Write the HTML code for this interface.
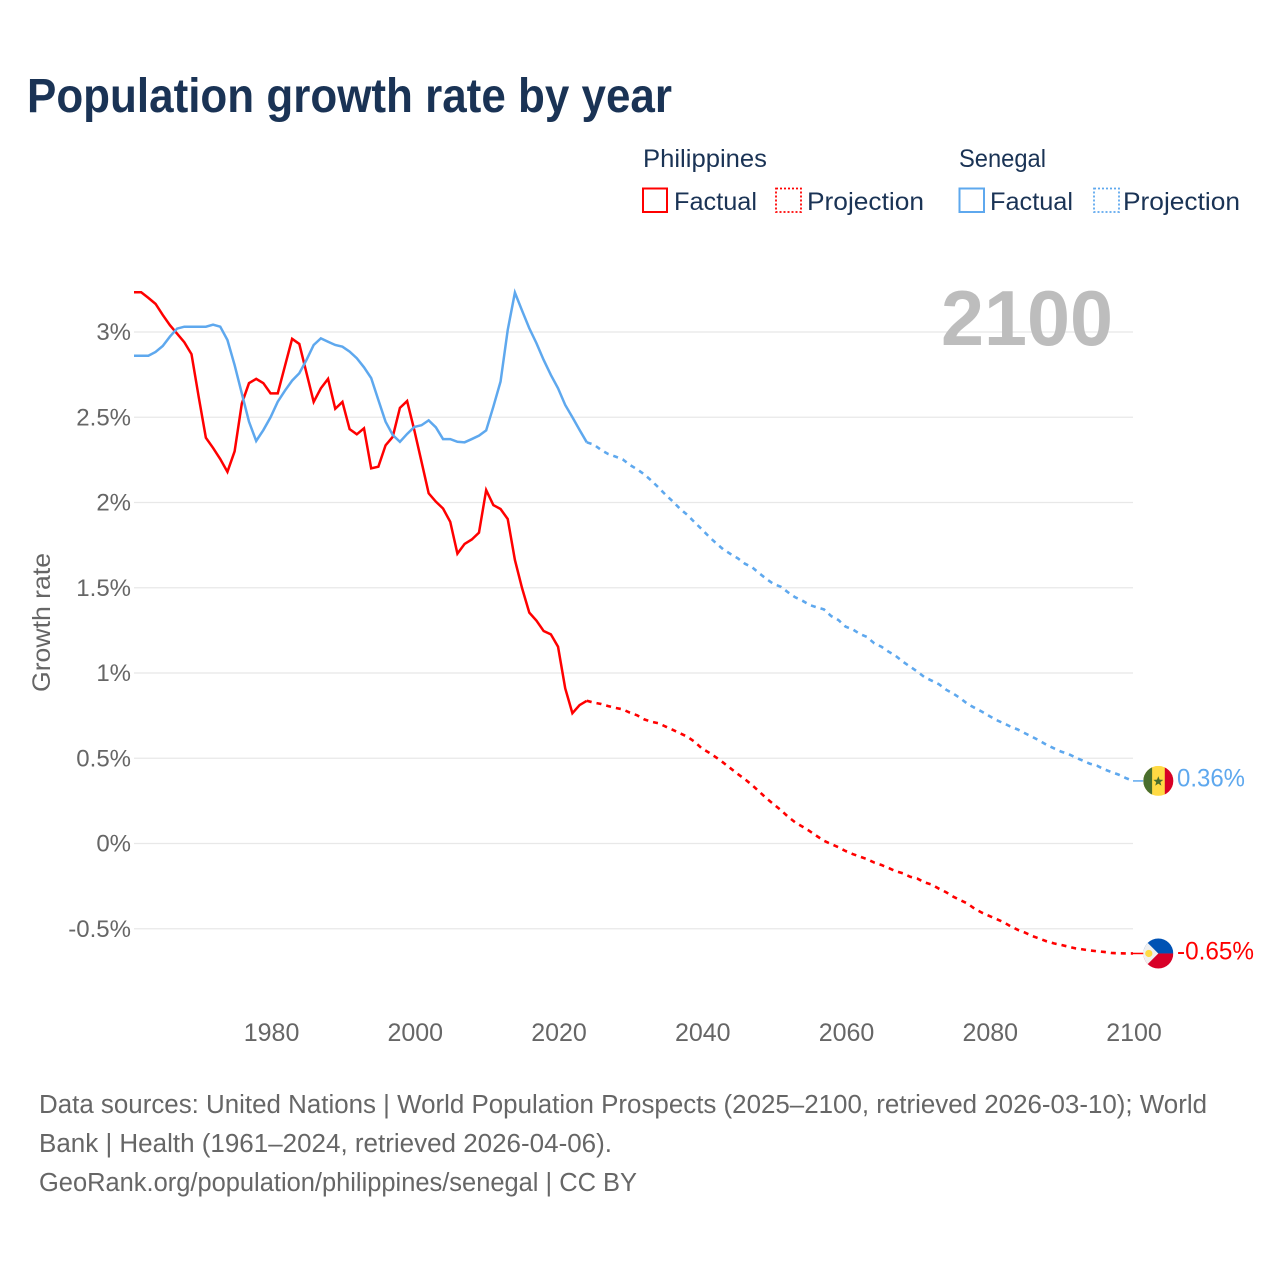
<!DOCTYPE html>
<html lang="en">
<head>
<meta charset="utf-8">
<title>Population growth rate by year</title>
<style>
html,body{margin:0;padding:0;background:#fff;}
svg{display:block;font-family:"Liberation Sans",sans-serif;}
</style>
</head>
<body>
<svg id="chart" xmlns="http://www.w3.org/2000/svg" width="1280" height="1280" viewBox="0 0 1280 1280">
  <rect x="0" y="0" width="1280" height="1280" fill="#ffffff"/>
  <text x="27" y="112" font-size="48.5" font-weight="700" fill="#1a3355" textLength="645" lengthAdjust="spacingAndGlyphs">Population growth rate by year</text>

  <g font-size="25" fill="#1a3355">
    <text x="643" y="167" textLength="124" lengthAdjust="spacingAndGlyphs">Philippines</text>
    <text x="959" y="167" textLength="87" lengthAdjust="spacingAndGlyphs">Senegal</text>
    <rect x="643" y="188.5" width="24" height="23.5" fill="none" stroke="#ff0000" stroke-width="2"/>
    <text x="674" y="210" textLength="83" lengthAdjust="spacingAndGlyphs">Factual</text>
    <rect x="776" y="188.5" width="25" height="23.5" fill="none" stroke="#ff0000" stroke-width="1.8" stroke-dasharray="2 2"/>
    <text x="807" y="210" textLength="117" lengthAdjust="spacingAndGlyphs">Projection</text>
    <rect x="959.5" y="188.5" width="24.5" height="23.5" fill="none" stroke="#5ea8ee" stroke-width="2"/>
    <text x="990" y="210" textLength="83" lengthAdjust="spacingAndGlyphs">Factual</text>
    <rect x="1094" y="188.5" width="25" height="23.5" fill="none" stroke="#5ea8ee" stroke-width="1.8" stroke-dasharray="2 2"/>
    <text x="1123" y="210" textLength="117" lengthAdjust="spacingAndGlyphs">Projection</text>
  </g>

  <g id="grid"></g>
  <g id="ytick-labels"></g>
  <g id="xtick-labels"></g>

  <text x="941" y="345" font-size="78" font-weight="700" fill="#bdbdbd" textLength="172" lengthAdjust="spacingAndGlyphs">2100</text>
  <text transform="translate(50,622.5) rotate(-90)" text-anchor="middle" font-size="25" fill="#666666" textLength="139" lengthAdjust="spacingAndGlyphs">Growth rate</text>

  <g id="series"></g>
  <g id="end-markers"></g>

  <g font-size="25.5" fill="#666666">
    <text x="39" y="1113" textLength="1168" lengthAdjust="spacingAndGlyphs">Data sources: United Nations | World Population Prospects (2025–2100, retrieved 2026-03-10); World</text>
    <text x="39" y="1152" textLength="573" lengthAdjust="spacingAndGlyphs">Bank | Health (1961–2024, retrieved 2026-04-06).</text>
    <text x="39" y="1191" textLength="598" lengthAdjust="spacingAndGlyphs">GeoRank.org/population/philippines/senegal | CC BY</text>
  </g>
</svg>
<script>
const factualStartYear = 1961;
const projectionStartYear = 2024;
const yTickValues = [-0.5, 0, 0.5, 1, 1.5, 2, 2.5, 3];
const xTickYears = [1980, 2000, 2020, 2040, 2060, 2080, 2100];
const philippinesEndLabel = "-0.65%";
const senegalEndLabel = "0.36%";

const philippinesFactual = [
  3.233,3.233,3.20,3.165,3.10,3.04,2.99,2.94,2.87,2.62,
  2.38,2.32,2.255,2.18,2.30,2.58,2.70,2.725,2.70,2.64,
  2.64,2.80,2.96,2.93,2.76,2.59,2.67,2.725,2.55,2.59,
  2.43,2.40,2.435,2.20,2.21,2.335,2.385,2.555,2.595,2.425,
  2.24,2.054,2.005,1.965,1.887,1.70,1.757,1.783,1.823,2.073,
  1.985,1.962,1.903,1.663,1.497,1.354,1.307,1.246,1.227,1.154,
  0.91,0.764,0.812,0.837
];
const philippinesProjection = [
  0.837,0.826,0.818,0.806,0.795,0.787,0.767,0.752,0.728,0.714,
  0.705,0.685,0.666,0.646,0.626,0.597,0.558,0.533,0.505,0.474,
  0.441,0.408,0.377,0.343,0.304,0.265,0.23,0.196,0.157,0.124,
  0.099,0.073,0.044,0.016,-0.003,-0.022,-0.044,-0.062,-0.077,-0.092,
  -0.112,-0.126,-0.144,-0.163,-0.175,-0.195,-0.206,-0.228,-0.241,-0.265,
  -0.286,-0.312,-0.333,-0.353,-0.384,-0.406,-0.425,-0.443,-0.462,-0.486,
  -0.507,-0.523,-0.543,-0.558,-0.574,-0.586,-0.595,-0.605,-0.615,-0.621,
  -0.627,-0.632,-0.636,-0.642,-0.644,-0.645,-0.645
];
const senegalFactual = [
  2.861,2.861,2.861,2.883,2.918,2.973,3.020,3.031,3.031,3.031,
  3.031,3.043,3.031,2.953,2.806,2.640,2.474,2.361,2.425,2.500,
  2.591,2.656,2.715,2.758,2.836,2.924,2.963,2.943,2.924,2.914,
  2.885,2.846,2.793,2.73,2.601,2.474,2.396,2.356,2.402,2.443,
  2.453,2.482,2.441,2.372,2.372,2.356,2.353,2.372,2.392,2.423,
  2.562,2.709,3.012,3.231,3.125,3.022,2.934,2.836,2.748,2.670,
  2.572,2.500,2.425,2.353
];
const senegalProjection = [
  2.353,2.339,2.308,2.284,2.269,2.253,2.220,2.195,2.165,2.128,
  2.087,2.044,2.005,1.962,1.927,1.884,1.843,1.800,1.761,1.725,
  1.698,1.673,1.641,1.620,1.585,1.551,1.522,1.506,1.473,1.444,
  1.424,1.399,1.385,1.373,1.334,1.311,1.272,1.256,1.229,1.211,
  1.174,1.154,1.125,1.100,1.066,1.037,1.008,0.975,0.955,0.934,
  0.902,0.879,0.851,0.818,0.795,0.773,0.748,0.724,0.705,0.685,
  0.668,0.646,0.625,0.603,0.578,0.558,0.539,0.525,0.505,0.486,
  0.468,0.456,0.435,0.419,0.404,0.384,0.367
];

const SVG_NS = "http://www.w3.org/2000/svg";
const RED = "#ff0000";
const BLUE = "#5ea8ee";
const xMinYear = 1961, xMaxYear = 2100, xLeft = 134, xRight = 1133;
const yZero = 843.5, pxPerUnit = 170.5;
function xScale(year){ return xLeft + (year - xMinYear) * (xRight - xLeft) / (xMaxYear - xMinYear); }
function yScale(value){ return yZero - value * pxPerUnit; }
function svgEl(tag, attrs, parent){
  const el = document.createElementNS(SVG_NS, tag);
  for (const k in attrs) el.setAttribute(k, attrs[k]);
  parent.appendChild(el);
  return el;
}
function linePath(values, startYear){
  return values.map(function(v, i){
    return (i ? "L" : "M") + xScale(startYear + i).toFixed(2) + " " + yScale(v).toFixed(2);
  }).join(" ");
}

const gridGroup = document.getElementById("grid");
const yLabelGroup = document.getElementById("ytick-labels");
yTickValues.forEach(function(v){
  const y = yScale(v);
  const line = svgEl("line", {x1:xLeft, x2:xRight, y1:y, y2:y, stroke:"#e8e8e8", "stroke-width":1.3}, gridGroup);
  
  
  const t = svgEl("text", {x:131, y:y+8, "text-anchor":"end", "font-size":24, fill:"#666666"}, yLabelGroup);
  
  
  t.textContent = v + "%";
});

const xLabelGroup = document.getElementById("xtick-labels");
xTickYears.forEach(function(year){
  const t = svgEl("text", {x:xScale(year)+1, y:1041, "text-anchor":"middle", "font-size":25, fill:"#666666"}, xLabelGroup);
  
  
  t.textContent = year;
});

const seriesGroup = document.getElementById("series");
const phSolid = svgEl("path", {d:linePath(philippinesFactual, factualStartYear), fill:"none", stroke:RED, "stroke-width":2.5, "stroke-linejoin":"miter"}, seriesGroup);


const phDash = svgEl("path", {d:linePath(philippinesProjection, projectionStartYear), fill:"none", stroke:RED, "stroke-width":2.6, "stroke-dasharray":"5 5"}, seriesGroup);


const snSolid = svgEl("path", {d:linePath(senegalFactual, factualStartYear), fill:"none", stroke:BLUE, "stroke-width":2.5, "stroke-linejoin":"miter"}, seriesGroup);


const snDash = svgEl("path", {d:linePath(senegalProjection, projectionStartYear), fill:"none", stroke:BLUE, "stroke-width":2.6, "stroke-dasharray":"5 5"}, seriesGroup);



const markers = document.getElementById("end-markers");
const phY = yScale(philippinesProjection[philippinesProjection.length - 1]);
const snY = yScale(senegalProjection[senegalProjection.length - 1]);
const flagX = 1158.3, flagR = 15;

const phLink = svgEl("line", {x1:xRight, x2:flagX-flagR, y1:phY, y2:phY, stroke:RED, "stroke-width":1.5}, markers);


const snLink = svgEl("line", {x1:xRight, x2:flagX-flagR, y1:snY, y2:snY, stroke:BLUE, "stroke-width":1.5}, markers);



const clipDefs = svgEl("defs", {}, markers);
const clipSn = svgEl("clipPath", {id:"clip-sn"}, clipDefs);
svgEl("circle", {cx:flagX, cy:snY, r:flagR}, clipSn);
const clipPh = svgEl("clipPath", {id:"clip-ph"}, clipDefs);
svgEl("circle", {cx:flagX, cy:phY, r:flagR}, clipPh);

const snFlag = svgEl("g", {"clip-path":"url(#clip-sn)"}, markers);


svgEl("rect", {x:flagX-flagR, y:snY-flagR, width:flagR*2, height:flagR*2, fill:"#ffda44"}, snFlag);
svgEl("rect", {x:flagX-flagR, y:snY-flagR, width:8.8, height:flagR*2, fill:"#496e2d"}, snFlag);
svgEl("rect", {x:flagX+6.5, y:snY-flagR, width:8.8, height:flagR*2, fill:"#d80027"}, snFlag);
const starPts = [];
for (let i = 0; i < 10; i++){
  const a = -Math.PI/2 + i*Math.PI/5, r = i%2 ? 2.2 : 5.2;
  starPts.push((flagX + r*Math.cos(a)).toFixed(2) + "," + (snY + 0.5 + r*Math.sin(a)).toFixed(2));
}
svgEl("polygon", {points:starPts.join(" "), fill:"#496e2d"}, snFlag);

const phFlag = svgEl("g", {"clip-path":"url(#clip-ph)"}, markers);


svgEl("rect", {x:flagX-flagR, y:phY-flagR, width:flagR*2, height:flagR, fill:"#0052b4"}, phFlag);
svgEl("rect", {x:flagX-flagR, y:phY, width:flagR*2, height:flagR, fill:"#d80027"}, phFlag);
svgEl("polygon", {points:(flagX-flagR)+","+(phY-flagR)+" "+flagX+","+phY+" "+(flagX-flagR)+","+(phY+flagR), fill:"#f0f0f0"}, phFlag);
svgEl("circle", {cx:flagX-9.5, cy:phY, r:3.6, fill:"#ffda44"}, phFlag);

const snText = svgEl("text", {x:1177, y:snY+5.7, "font-size":25, fill:BLUE, textLength:68, lengthAdjust:"spacingAndGlyphs"}, markers);


snText.textContent = senegalEndLabel;
const phText = svgEl("text", {x:1177, y:phY+5.8, "font-size":25, fill:RED, textLength:77, lengthAdjust:"spacingAndGlyphs"}, markers);


phText.textContent = philippinesEndLabel;
</script>
</body>
</html>
